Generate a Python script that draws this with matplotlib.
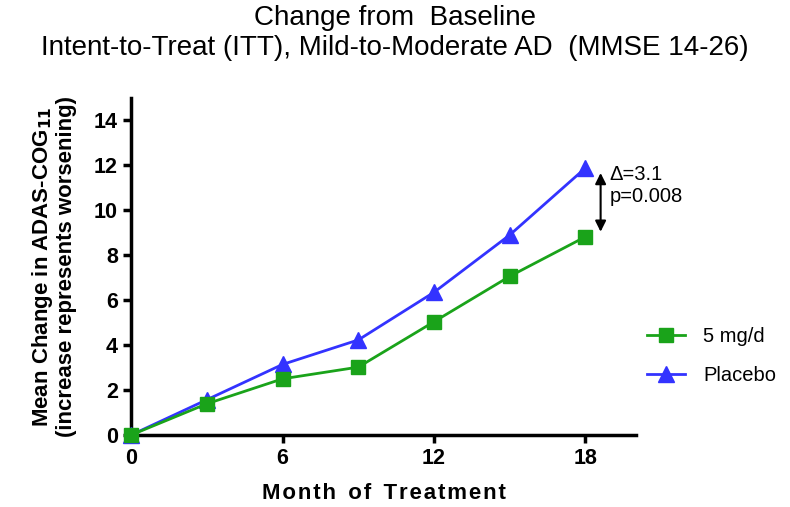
import matplotlib
matplotlib.use('Agg')
import matplotlib.pyplot as plt

# data
months = [0, 3, 6, 9, 12, 15, 18]
drug_5mg = [0, 1.39, 2.5, 3.02, 5.04, 7.06, 8.82]
placebo = [0, 1.57, 3.14, 4.23, 6.35, 8.9, 11.88]
xticks = [0, 6, 12, 18]
yticks = [0, 2, 4, 6, 8, 10, 12, 14]

plt.rcParams['font.family'] = ['Liberation Sans', 'DejaVu Sans']

fig = plt.figure(figsize=(7.9, 5.07), dpi=100)
ax = fig.add_axes([0.166, 0.142, 0.639, 0.665])

ax.plot(months, drug_5mg, color='#1aa31a', lw=2, marker='s', ms=10,
        label='5 mg/d', clip_on=False, zorder=4)
ax.plot(months, placebo, color='#3333ff', lw=2, marker='^', ms=11,
        label='Placebo', clip_on=False, zorder=3)

ax.set_xlim(0, 20)
ax.set_ylim(0, 15)
ax.set_xticks(xticks)
ax.set_yticks(yticks)
ax.tick_params(width=2.5, length=6, labelsize=15.5)
for lab in ax.get_xticklabels() + ax.get_yticklabels():
    lab.set_fontweight('bold')
for s in ['top', 'right']:
    ax.spines[s].set_visible(False)
for s in ['left', 'bottom']:
    ax.spines[s].set_linewidth(2.5)

# letter-spaced x label like the original
xlab = '  '.join('\u200a'.join(w) for w in 'Month of Treatment'.split())
ax.set_xlabel(xlab, fontsize=16, fontweight='bold', labelpad=10)
ax.set_ylabel('Mean Change in ADAS-COG$_{\\mathbf{11}}$\n(increase represents worsening)',
              fontsize=16, fontweight='bold', linespacing=1.05, labelpad=12)

# difference annotation at month 18
ax.annotate('', xy=(18.6, placebo[-1] - 0.1), xytext=(18.6, drug_5mg[-1] + 0.1),
            arrowprops=dict(arrowstyle='<|-|>', color='black', lw=1.5,
                            mutation_scale=16), annotation_clip=False)
ax.text(18.95, 11.1, '\u0394=3.1\np=0.008', fontsize=14.5, va='center', ha='left',
        linespacing=1.25)

ax.legend(loc='center left', bbox_to_anchor=(0.985, 0.235), frameon=False,
          fontsize=14.5, handlelength=1.9, handletextpad=0.9, labelspacing=1.0)

fig.suptitle('Change from  Baseline\nIntent-to-Treat (ITT), Mild-to-Moderate AD  (MMSE 14-26)',
             fontsize=20, y=0.99, linespacing=1.2)

fig.savefig('out.png', dpi=100)
